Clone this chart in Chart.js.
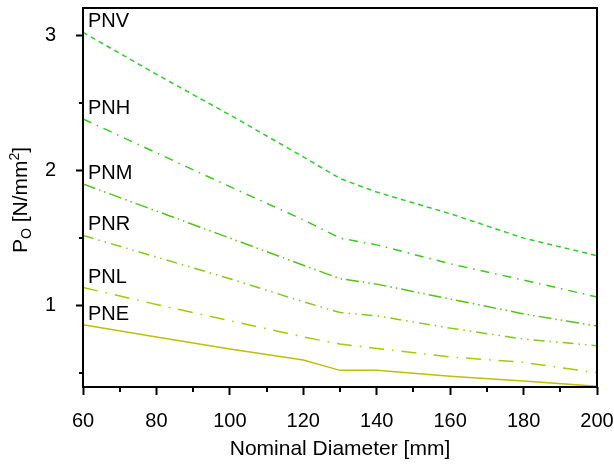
<!DOCTYPE html>
<html>
<head>
<meta charset="utf-8">
<script src="https://cdn.jsdelivr.net/npm/chart.js@4/dist/chart.umd.min.js"></script>
<style>
  body { margin: 0; background: #fff; }
  #wrap { width: 614px; height: 465px; position: relative; }
</style>
</head>
<body>
<div id="wrap"><canvas id="pressureChart"></canvas></div>
<script>
// nominal diameters [mm]
const diameters = [60, 80, 100, 120, 130, 140, 160, 180, 200];

// allowable pressure P_O [N/mm2] per class
const pnv = [3.02, 2.71, 2.41, 2.10, 1.94, 1.84, 1.68, 1.50, 1.37];
const pnh = [2.38, 2.13, 1.88, 1.635, 1.50, 1.45, 1.31, 1.19, 1.065];
const pnm = [1.90, 1.70, 1.50, 1.30, 1.20, 1.16, 1.05, 0.94, 0.85];
const pnr = [1.52, 1.36, 1.20, 1.03, 0.95, 0.926, 0.835, 0.754, 0.705];
const pnl = [1.135, 1.01, 0.89, 0.77, 0.717, 0.685, 0.622, 0.582, 0.505];
const pne = [0.86, 0.77, 0.68, 0.60, 0.523, 0.523, 0.48, 0.445, 0.405];

const seriesNames = ["PNV", "PNH", "PNM", "PNR", "PNL", "PNE"];

const xTicks = [60, 80, 100, 120, 140, 160, 180, 200];
const xMinorTicks = [70, 90, 110, 130, 150, 170, 190];
const yTicks = [1, 2, 3];
const yMinorTicks = [0.5, 1.5, 2.5];

const FONT = "'Liberation Sans', Arial, sans-serif";

function makeSet(label, values, color, dash) {
    return {
        label: label,
        data: values,
        borderColor: color,
        borderWidth: 1.5,
        borderDash: dash,
        pointRadius: 0,
        fill: false,
        tension: 0
    };
}

const frameAndLabels = {
    id: "frameAndLabels",
    afterDraw(chart) {
        const ctx = chart.ctx;
        const area = chart.chartArea;
        const xs = chart.scales.x;
        const ys = chart.scales.y;
        ctx.save();

        // frame
        ctx.strokeStyle = "#000";
        ctx.lineWidth = 2;
        ctx.strokeRect(area.left, area.top, area.right - area.left, area.bottom - area.top);

        // minor ticks
        ctx.beginPath();
        xMinorTicks.forEach(v => {
            const px = Math.round(xs.getPixelForValue(v));
            ctx.moveTo(px, area.bottom);
            ctx.lineTo(px, area.bottom + 5);
        });
        yMinorTicks.forEach(v => {
            const py = Math.round(ys.getPixelForValue(v));
            ctx.moveTo(area.left, py);
            ctx.lineTo(area.left - 4, py);
        });
        ctx.stroke();

        // series labels above line starts
        ctx.fillStyle = "#000";
        ctx.font = "20px " + FONT;
        ctx.textAlign = "left";
        ctx.textBaseline = "alphabetic";
        chart.data.datasets.forEach((ds, i) => {
            const py = ys.getPixelForValue(ds.data[0]);
            ctx.fillText(seriesNames[i], area.left + 5, py - 5);
        });

        // x title
        ctx.font = "21px " + FONT;
        ctx.textAlign = "center";
        ctx.textBaseline = "middle";
        ctx.fillText("Nominal Diameter [mm]", (area.left + area.right) / 2, 449);

        // y title with sub/superscript
        ctx.translate(20, 200);
        ctx.rotate(-Math.PI / 2);
        const big = "21px " + FONT;
        const small = "14px " + FONT;
        const parts = [
            { t: "P", f: big, dy: 0 },
            { t: "O", f: small, dy: 4 },
            { t: " [N/mm", f: big, dy: 0 },
            { t: "2", f: small, dy: -8 },
            { t: "]", f: big, dy: 0 }
        ];
        let total = 0;
        parts.forEach(p => { ctx.font = p.f; total += ctx.measureText(p.t).width; });
        let cx = -total / 2;
        ctx.textAlign = "left";
        ctx.textBaseline = "alphabetic";
        parts.forEach(p => {
            ctx.font = p.f;
            ctx.fillText(p.t, cx, 7 + p.dy);
            cx += ctx.measureText(p.t).width;
        });
        ctx.restore();
    }
};

const ctx = document.getElementById("pressureChart").getContext("2d");
const chartData = {
    labels: diameters,
    datasets: [
        makeSet("PNV", pnv, "#2ecc2e", [5, 4]),
        makeSet("PNH", pnh, "#3cc81e", [9, 6, 1.5, 6]),
        makeSet("PNM", pnm, "#58c018", [13, 4, 1.5, 4, 1.5, 4]),
        makeSet("PNR", pnr, "#86c81c", [11, 5, 1.5, 5, 1.5, 5]),
        makeSet("PNL", pnl, "#a8c80a", [15, 8, 1.5, 8]),
        makeSet("PNE", pne, "#bebe0c", [])
    ]
};

const pressureChart = new Chart(ctx, {
    type: "line",
    data: chartData,
    options: {
        responsive: true,
        maintainAspectRatio: false,
        animation: false,
        layout: { padding: { top: 8, right: 17, left: 0, bottom: 0 } },
        plugins: {
            legend: { display: false },
            tooltip: { enabled: false }
        },
        scales: {
            x: {
                type: "linear",
                min: 60,
                max: 200,
                afterBuildTicks: s => { s.ticks = xTicks.map(v => ({ value: v })); },
                afterFit: s => {
                    s.height = 78;
                    s.paddingLeft = 0;
                    s.paddingRight = 0;
                },
                grid: { drawOnChartArea: false, tickLength: 8, tickWidth: 2, tickColor: "#000" },
                border: { display: false },
                ticks: { color: "#000", font: { size: 20, family: FONT }, padding: 14, maxRotation: 0 }
            },
            y: {
                type: "linear",
                min: 0.4,
                max: 3.2,
                afterBuildTicks: s => { s.ticks = yTicks.map(v => ({ value: v })); },
                afterFit: s => {
                    s.width = 83;
                    s.paddingTop = 0;
                    s.paddingBottom = 0;
                },
                grid: { drawOnChartArea: false, tickLength: 7, tickWidth: 2, tickColor: "#000" },
                border: { display: false },
                ticks: { color: "#000", font: { size: 20, family: FONT }, padding: 20 }
            }
        }
    },
    plugins: [frameAndLabels]
});
</script>
</body>
</html>
